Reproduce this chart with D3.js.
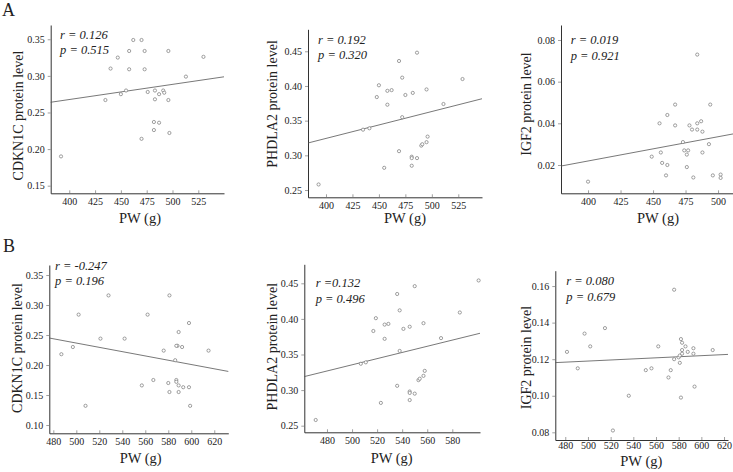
<!DOCTYPE html>
<html>
<head>
<meta charset="utf-8">
<script src="https://cdn.jsdelivr.net/npm/d3@7"></script>
<style>
  body { margin: 0; background: #fff; }
  svg text { font-family: "Liberation Serif", "Times New Roman", serif; }
</style>
</head>
<body>
<div id="fig"></div>
<script>

// ---- data ----
// row A
var pwA1 = [392,435,440,447,450,455,458,458,462,470,470,473,473,476,482,482,483,483,487,487,491,492,496,496,497,513,530]
var cdkn1cA = [0.190,0.267,0.310,0.325,0.275,0.280,0.334,0.309,0.349,0.349,0.214,0.334,0.309,0.278,0.237,0.226,0.280,0.268,0.275,0.236,0.280,0.277,0.334,0.267,0.222,0.299,0.326]

var pwA2 = [393,435,441,448,450,455,458,458,462,469,469,472,472,475,481,481,481,482,486,486,490,491,495,495,496,511,529]
var phlda2A = [0.258,0.337,0.339,0.384,0.401,0.282,0.393,0.373,0.394,0.436,0.306,0.412,0.355,0.387,0.298,0.296,0.285,0.390,0.448,0.296,0.314,0.316,0.395,0.319,0.327,0.374,0.410]

var pwA3 = [400,449,455,456,457,460,461,461,467,467,473,474,476,477,476,478,480,481,484,484,484,487,488,488,493,494,496,502,502]
var igf2A = [0.012,0.024,0.040,0.026,0.021,0.015,0.044,0.020,0.049,0.039,0.031,0.027,0.025,0.027,0.019,0.039,0.037,0.014,0.073,0.040,0.037,0.041,0.036,0.026,0.030,0.049,0.015,0.0154,0.0138]

// row B
var pwB1 = [487,497,502,508,521,528,542,557,562,567,576,580,581,581,586,587,587,588,589,589,589,592,593,598,598,599,615,587]
var cdkn1cB = [0.218,0.230,0.284,0.132,0.244,0.316,0.244,0.166,0.284,0.175,0.224,0.170,0.316,0.155,0.208,0.175,0.172,0.232,0.255,0.166,0.155,0.230,0.163,0.163,0.270,0.132,0.224,0.232]

var pwB2 = [471,507,511,517,519,523,526,526,529,536,536,538,538,541,546,546,546,546,550,550,553,554,557,557,558,571,586,601]
var phlda2B = [0.258,0.337,0.339,0.383,0.401,0.282,0.392,0.372,0.393,0.435,0.306,0.412,0.355,0.386,0.298,0.296,0.286,0.389,0.446,0.295,0.314,0.316,0.394,0.320,0.327,0.373,0.409,0.454]

var pwB3 = [481.5,491,497,502,515,522,536,551,556,562,571,573,576,576,580,581,581,582,582,583,583,583,586,588,593,593,594,610]
var igf2B = [0.124,0.115,0.134,0.127,0.137,0.081,0.100,0.114,0.115,0.127,0.110,0.114,0.158,0.120,0.121,0.122,0.118,0.099,0.131,0.129,0.125,0.123,0.127,0.124,0.126,0.123,0.105,0.125]

// fitted lines [intercept, slope]
var fitA1 = [0.1849, 0.000207]
var fitA2 = [0.1692, 0.000388]
var fitA3 = [-0.02464, 0.0001164]
var fitB1 = [0.41545, -0.0003577]
var fitB2 = [0.1185, 0.000434]
var fitB3 = [0.1042, 0.00002955]

// correlation text
var statsA = [["r = 0.126", "p = 0.515"], ["r = 0.192", "p = 0.320"], ["r = 0.019", "p = 0.921"]]
var statsB = [["r = -0.247", "p = 0.196"], ["r =0.132", "p = 0.496"], ["r = 0.080", "p = 0.679"]]

// tick labels
var ticksPwA = [400, 425, 450, 475, 500, 525]
var ticksPwB = [480, 500, 520, 540, 560, 580, 600, 620]
var ticksCdkn1cA = [0.15, 0.20, 0.25, 0.30, 0.35]
var ticksCdkn1cB = [0.10, 0.15, 0.20, 0.25, 0.30, 0.35]
var ticksPhlda2 = [0.25, 0.30, 0.35, 0.40, 0.45]
var ticksIgf2A = [0.02, 0.04, 0.06, 0.08]
var ticksIgf2B = [0.08, 0.10, 0.12, 0.14, 0.16]

var xTitle = "PW (g)"
var yTitles = ["CDKN1C protein level", "PHDLA2 protein level", "IGF2 protein level"]


// ---- layout of the six panels ----
var panels = [
  {xs: pwA1, ys: cdkn1cA, fit: fitA1, stats: statsA[0], xt: ticksPwA, yt: ticksCdkn1cA, yTitle: yTitles[0],
   left: 50.7, right: 224, top: 25, bottom: 193.3, xDom: [382, 549.9], yDom: [0.1396, 0.3695],
   sx: 60, sy: 38.5, ylx: 18.3, yly: 115.5, xlx: 140, xly: 223, pad: 5},
  {xs: pwA2, ys: phlda2A, fit: fitA2, stats: statsA[1], xt: ticksPwA, yt: ticksPhlda2, yTitle: yTitles[1],
   left: 308, right: 482, top: 29.3, bottom: 197.3, xDom: [383, 547.4], yDom: [0.2395, 0.4817],
   sx: 318, sy: 43.5, ylx: 271.7, yly: 104, xlx: 405, xly: 223, pad: 5},
  {xs: pwA3, ys: igf2A, fit: fitA3, stats: statsA[2], xt: [400, 425, 450, 475, 500], yt: ticksIgf2A, yTitle: yTitles[2],
   left: 561, right: 740, top: 25, bottom: 193.3, xDom: [379.2, 516.9], yDom: [0.00641, 0.0872],
   sx: 570.7, sy: 44, ylx: 526, yly: 104, xlx: 658, xly: 223, pad: 5},
  {xs: pwB1, ys: cdkn1cB, fit: fitB1, stats: statsB[0], xt: ticksPwB, yt: ticksCdkn1cB, yTitle: yTitles[0],
   left: 49.3, right: 228.3, top: 265, bottom: 433.3, xDom: [476.5, 632.2], yDom: [0.0862, 0.3667],
   sx: 55, sy: 269.5, ylx: 16.7, yly: 348, xlx: 140.7, xly: 463, pad: 5},
  {xs: pwB2, ys: phlda2B, fit: fitB2, stats: statsB[1], xt: ticksPwB.slice(0, 6), yt: ticksPhlda2, yTitle: yTitles[1],
   left: 304.3, right: 480, top: 264.3, bottom: 432.3, xDom: [461.9, 602.1], yDom: [0.2407, 0.4767],
   sx: 315.7, sy: 287, ylx: 271.7, yly: 346.7, xlx: 391.7, xly: 463, pad: 5},
  {xs: pwB3, ys: igf2B, fit: fitB3, stats: statsB[2], xt: ticksPwB, yt: ticksIgf2B, yTitle: yTitles[2],
   left: 555.3, right: 728, top: 270.7, bottom: 440, xDom: [471.2, 623.5], yDom: [0.0758, 0.1684],
   sx: 566.3, sy: 285, ylx: 526.3, yly: 357.5, xlx: 641.3, xly: 466, pad: 2}
]

var svg = d3.select("#fig")
  .append("svg")
    .attr("width", 733)
    .attr("height", 472)

// panel letters
svg.append("text").attr("x", 2).attr("y", 16).text("A")
  .style("font-size", "18px").style("fill", "#222")
svg.append("text").attr("x", 3).attr("y", 252).text("B")
  .style("font-size", "18px").style("fill", "#222")

panels.forEach(function(p) {

  var x = d3.scaleLinear().domain(p.xDom).range([p.left, p.right])
  var y = d3.scaleLinear().domain(p.yDom).range([p.bottom, p.top])

  var g = svg.append("g")

  // x axis
  var gx = g.append("g")
    .attr("transform", "translate(0," + p.bottom + ")")
    .call(d3.axisBottom(x).tickValues(p.xt).tickFormat(d3.format("d"))
      .tickSizeInner(-3).tickSizeOuter(0).tickPadding(p.pad))

  // y axis
  var gy = g.append("g")
    .attr("transform", "translate(" + p.left + ",0)")
    .call(d3.axisLeft(y).tickValues(p.yt).tickFormat(d3.format(".2f"))
      .tickSizeInner(3).tickSizeOuter(0).tickPadding(3))

  ;[gx, gy].forEach(function(a) {
    a.select(".domain").attr("stroke", "#333").attr("stroke-width", 1)
    a.selectAll(".tick line").attr("stroke", "#777").attr("stroke-width", 0.7)
    a.selectAll(".tick text").style("font-size", "10px").attr("fill", "#222")
      .style("font-family", "'Liberation Serif', serif")
  })

  // fitted line
  var fx = p.xDom
  g.append("line")
    .attr("x1", x(fx[0])).attr("y1", y(p.fit[0] + p.fit[1] * fx[0]))
    .attr("x2", x(fx[1])).attr("y2", y(p.fit[0] + p.fit[1] * fx[1]))
    .attr("stroke", "#555")
    .attr("stroke-width", 0.8)

  // points
  g.append("g")
    .selectAll("circle")
    .data(p.xs)
    .join("circle")
      .attr("cx", d => x(d))
      .attr("cy", (d, i) => y(p.ys[i]))
      .attr("r", 1.6)
      .attr("fill", "#fff")
      .attr("stroke", "#777")
      .attr("stroke-width", 0.7)

  // r / p
  g.selectAll(".stat")
    .data(p.stats)
    .join("text")
      .attr("class", "stat")
      .attr("x", p.sx)
      .attr("y", (d, i) => p.sy + i * 15.5)
      .text(d => d)
      .style("font-size", "12.5px")
      .style("font-style", "italic")
      .style("fill", "#222")

  // axis titles
  g.append("text")
    .attr("transform", "translate(" + p.ylx + "," + p.yly + ") rotate(-90)")
    .attr("text-anchor", "middle")
    .attr("dy", "0.35em")
    .text(p.yTitle)
    .style("font-size", "14px")
    .style("fill", "#222")

  g.append("text")
    .attr("x", p.xlx)
    .attr("y", p.xly)
    .attr("text-anchor", "middle")
    .text(xTitle)
    .style("font-size", "14.5px")
    .style("fill", "#222")
})

</script>
</body>
</html>
